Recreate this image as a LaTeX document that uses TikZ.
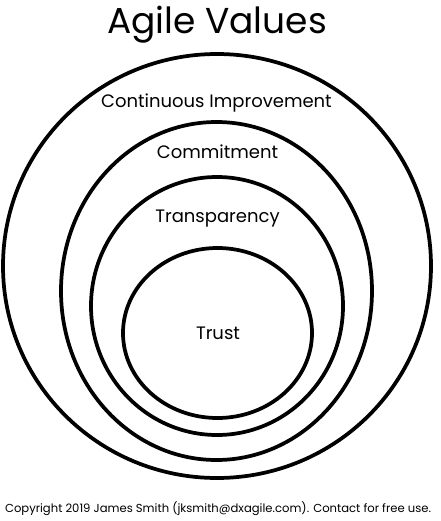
\documentclass[tikz,border=0pt]{standalone}
\usepackage{fontspec}
\setmainfont{Poppins}
\begin{document}
\begin{tikzpicture}[x=0.75pt,y=-0.75pt,
  ring/.style={line width=2.8pt},
  lab/.style={anchor=base,inner sep=0pt,font=\fontsize{13.5}{16}\selectfont}]
\useasboundingbox[fill=white] (0,0) rectangle (441,521);
\coordinate (c1) at (217,266);
\coordinate (c2) at (216.5,291);
\coordinate (c3) at (217,306);
\coordinate (c4) at (217.5,333);
\draw[ring] (c1) ellipse [x radius=214, y radius=212];
\draw[ring] (c2) ellipse [x radius=155.5, y radius=169];
\draw[ring] (c3) ellipse [x radius=126, y radius=129];
\draw[ring] (c4) ellipse [x radius=94.5, y radius=85];
\node[anchor=base,inner sep=0pt,font=\fontsize{27}{32}\selectfont] (title) at (217,33) {Agile Values};
\node[lab] (ci) at (216.5,107) {Continuous Improvement};
\node[lab] (cm) at (217.5,158) {Commitment};
\node[lab] (tp) at (217.5,222) {Transparency};
\node[lab] (tr) at (218,339) {Trust};
\node[anchor=base,inner sep=0pt,font=\fontsize{8.7}{11}\selectfont] (copy) at (218,512) {Copyright 2019 James Smith (jksmith@dxagile.com). Contact for free use.};
\end{tikzpicture}
\end{document}
